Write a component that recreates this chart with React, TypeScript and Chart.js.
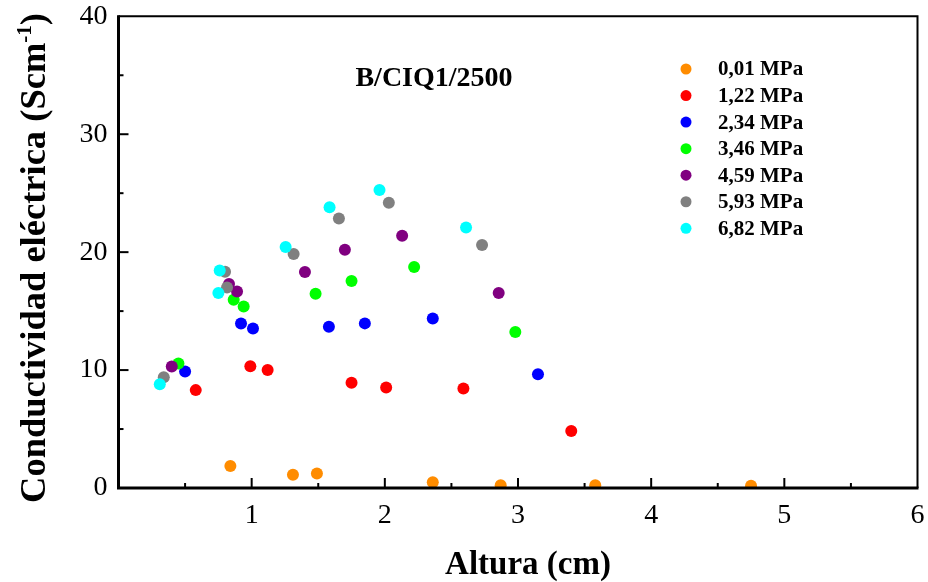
import React, { useEffect, useRef } from "react";
import { Chart, registerables } from "chart.js";

Chart.register(...registerables);

const seriesLabels = ["0,01 MPa", "1,22 MPa", "2,34 MPa", "3,46 MPa", "4,59 MPa", "5,93 MPa", "6,82 MPa"];
const seriesColors = ["#FF8C00", "#FF0000", "#0000FF", "#00FF00", "#800080", "#808080", "#00FFFF"];

const p001X = [0.84, 1.31, 1.49, 2.36, 2.87, 3.58, 4.75];
const p001Y = [1.87, 1.13, 1.22, 0.48, 0.23, 0.23, 0.2];
const p122X = [0.58, 0.99, 1.12, 1.75, 2.01, 2.59, 3.40];
const p122Y = [8.3, 10.33, 10.0, 8.92, 8.52, 8.44, 4.84];
const p234X = [0.50, 0.92, 1.01, 1.58, 1.85, 2.36, 3.15];
const p234Y = [9.88, 13.95, 13.53, 13.67, 13.96, 14.38, 9.65];
const p346X = [0.45, 0.865, 0.94, 1.48, 1.75, 2.22, 2.98];
const p346Y = [10.56, 15.97, 15.4, 16.48, 17.55, 18.74, 13.22];
const p459X = [0.40, 0.83, 0.89, 1.40, 1.70, 2.13, 2.855];
const p459Y = [10.3, 17.3, 16.67, 18.32, 20.21, 21.4, 16.53];
const p593X = [0.34, 0.80, 0.815, 1.315, 1.655, 2.03, 2.73];
const p593Y = [9.4, 18.34, 17.0, 19.84, 22.85, 24.18, 20.61];
const p682X = [0.31, 0.75, 0.76, 1.255, 1.585, 1.96, 2.61];
const p682Y = [8.8, 16.53, 18.45, 20.44, 23.8, 25.28, 22.1];

const seriesX = [p001X, p122X, p234X, p346X, p459X, p593X, p682X];
const seriesY = [p001Y, p122Y, p234Y, p346Y, p459Y, p593Y, p682Y];

const xMin = 0, xMax = 6, xStep = 1, xMinor = 0.5;
const yMin = 0, yMax = 40, yStep = 10, yMinor = 5;

const chartTitle = "B/CIQ1/2500";
const xTitle = "Altura (cm)";
const yTitleMain = "Conductividad eléctrica (Scm";
const yTitleSup = "-1";
const yTitleEnd = ")";

const SERIF = "'Liberation Serif', 'Times New Roman', serif";

const decorPlugin = {
  id: "decor",
  afterDraw(chart: any) {
    const ctx = chart.ctx;
    const { left, right, top, bottom } = chart.chartArea;
    const xs = chart.scales.x;
    const ys = chart.scales.y;
    ctx.save();
    ctx.strokeStyle = "#000";
    // inward ticks
    ctx.lineWidth = 2;
    for (let v = xMin + xMinor; v < xMax; v += xMinor) {
      const px = xs.getPixelForValue(v);
      const len = Math.abs(v - Math.round(v)) < 1e-6 ? 10 : 5;
      ctx.beginPath();
      ctx.moveTo(px, bottom);
      ctx.lineTo(px, bottom - len);
      ctx.stroke();
    }
    for (let v = yMin + yMinor; v < yMax; v += yMinor) {
      const py = ys.getPixelForValue(v);
      const len = Math.abs(v / yStep - Math.round(v / yStep)) < 1e-6 ? 10 : 5;
      ctx.beginPath();
      ctx.moveTo(left, py);
      ctx.lineTo(left + len, py);
      ctx.stroke();
    }
    // frame
    ctx.lineWidth = 2;
    ctx.beginPath();
    ctx.moveTo(left, top);
    ctx.lineTo(right, top);
    ctx.lineTo(right, bottom);
    ctx.stroke();
    ctx.lineWidth = 3;
    ctx.beginPath();
    ctx.moveTo(left, top - 1);
    ctx.lineTo(left, bottom);
    ctx.lineTo(right + 1, bottom);
    ctx.stroke();

    // chart annotation
    ctx.fillStyle = "#000";
    ctx.font = "bold 28px " + SERIF;
    ctx.textAlign = "center";
    ctx.textBaseline = "alphabetic";
    ctx.fillText(chartTitle, 434, 86);

    // legend
    const ds = chart.data.datasets;
    ctx.font = "bold 21px " + SERIF;
    ctx.textAlign = "left";
    ctx.textBaseline = "middle";
    ds.forEach((d: any, i: number) => {
      const cy = 69 + i * 26.55;
      ctx.fillStyle = d.backgroundColor;
      ctx.beginPath();
      ctx.arc(686, cy, 5.5, 0, Math.PI * 2);
      ctx.fill();
      ctx.fillStyle = "#000";
      ctx.fillText(d.label, 718, cy + 1);
    });

    // x title
    ctx.font = "bold 33px " + SERIF;
    ctx.textAlign = "center";
    ctx.textBaseline = "alphabetic";
    ctx.fillText(xTitle, 528, 574);

    // y title (rotated) with superscript
    const fMain = "bold 36.5px " + SERIF;
    const fSup = "bold 21px " + SERIF;
    ctx.font = fMain;
    const w1 = ctx.measureText(yTitleMain).width;
    const w3 = ctx.measureText(yTitleEnd).width;
    ctx.font = fSup;
    const w2 = ctx.measureText(yTitleSup).width;
    const W = w1 + w2 + w3;
    ctx.translate(45, 258);
    ctx.rotate(-Math.PI / 2);
    ctx.textAlign = "left";
    let x0 = -W / 2;
    ctx.font = fMain;
    ctx.fillText(yTitleMain, x0, 0);
    x0 += w1;
    ctx.font = fSup;
    ctx.fillText(yTitleSup, x0, -14);
    x0 += w2;
    ctx.font = fMain;
    ctx.fillText(yTitleEnd, x0, 0);
    ctx.restore();
  },
};

const zeroPadding = (s: any) => {
  s.paddingTop = 0;
  s.paddingBottom = 0;
  s.paddingLeft = 0;
  s.paddingRight = 0;
};

export default function App() {
  const ref = useRef<HTMLCanvasElement | null>(null);
  useEffect(() => {
    if (!ref.current) return;
    const datasets = seriesLabels.map((label, i) => ({
      label,
      data: seriesX[i].map((x, j) => ({ x, y: seriesY[i][j] })),
      backgroundColor: seriesColors[i],
      borderColor: seriesColors[i],
      borderWidth: 0,
      pointRadius: 6,
      pointHoverRadius: 6,
      order: seriesLabels.length - i,
    }));
    const chart = new Chart(ref.current, {
      type: "scatter",
      data: { datasets },
      options: {
        responsive: false,
        animation: false,
        events: [],
        layout: { padding: { top: 16.3, right: 10.5, left: 0, bottom: 0 } },
        plugins: { legend: { display: false }, tooltip: { enabled: false }, title: { display: false } },
        scales: {
          x: {
            type: "linear",
            min: xMin,
            max: xMax,
            border: { display: false },
            grid: { display: false, drawTicks: false },
            ticks: {
              stepSize: xStep,
              padding: 14,
              color: "#000",
              font: { family: SERIF, size: 28, lineHeight: 1 },
              callback: (v: any) => (v === 0 ? "" : String(v)),
            },
            afterFit: (s: any) => { s.height = 94; zeroPadding(s); },
          },
          y: {
            type: "linear",
            min: yMin,
            max: yMax,
            border: { display: false },
            grid: { display: false, drawTicks: false },
            ticks: {
              stepSize: yStep,
              padding: 11,
              color: "#000",
              font: { family: SERIF, size: 28, lineHeight: 1 },
            },
            afterFit: (s: any) => { s.width = 118.5; zeroPadding(s); },
          },
        },
      },
      plugins: [decorPlugin],
    });
    return () => chart.destroy();
  }, []);
  return (
    <div style={{ position: "absolute", left: 0, top: 0, width: 928, height: 582, background: "#fff" }}>
      <canvas ref={ref} width={928} height={582} />
    </div>
  );
}
